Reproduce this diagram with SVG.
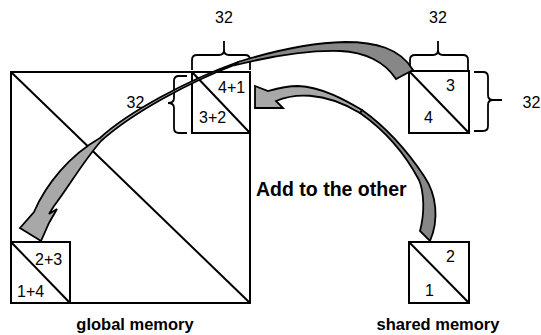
<svg xmlns="http://www.w3.org/2000/svg" width="541" height="335" viewBox="0 0 541 335">
  <style>
    .box { fill: #ffffff; stroke: #000000; stroke-width: 2; }
    .diag { stroke: #000000; stroke-width: 2; fill: none; }
    .brace { fill: none; stroke: #000000; stroke-width: 1.8; stroke-linejoin: round; }
    .back { fill: #878787; stroke: #000000; stroke-width: 1.8; stroke-linejoin: miter; }
    .front { fill: #a8a8a8; stroke: #000000; stroke-width: 1.8; stroke-linejoin: miter; }
    .num { font-family: "Liberation Sans", Arial, sans-serif; font-size: 16px; fill: #000000; }
    .cap { font-family: "Liberation Sans", Arial, sans-serif; font-size: 16.5px; font-weight: bold; fill: #000000; text-anchor: middle; }
    .note { font-family: "Liberation Sans", Arial, sans-serif; font-size: 19.5px; font-weight: bold; fill: #000000; }
  </style>

  <!-- global memory matrix -->
  <g id="global-memory">
    <rect class="box" x="11" y="72" width="239" height="231"/>
    <line class="diag" x1="11" y1="72" x2="250" y2="303"/>
  </g>

  <!-- tile in the upper-right corner of global memory -->
  <g id="global-tile-top">
    <rect class="box" x="192" y="72" width="58" height="61"/>
    <line class="diag" x1="192" y1="72" x2="250" y2="133"/>
    <text class="num" x="218" y="93">4+1</text>
    <text class="num" x="199" y="123">3+2</text>
  </g>

  <!-- tile in the lower-left corner of global memory -->
  <g id="global-tile-bottom">
    <rect class="box" x="11" y="242" width="59" height="61"/>
    <line class="diag" x1="11" y1="242" x2="70" y2="303"/>
    <text class="num" x="35" y="265">2+3</text>
    <text class="num" x="17" y="297">1+4</text>
  </g>

  <!-- shared memory tiles -->
  <g id="shared-tile-top">
    <rect class="box" x="409" y="71" width="60" height="62"/>
    <line class="diag" x1="409" y1="71" x2="469" y2="133"/>
    <text class="num" x="446" y="91">3</text>
    <text class="num" x="424" y="123">4</text>
  </g>

  <g id="shared-tile-bottom">
    <rect class="box" x="409" y="242" width="60" height="61"/>
    <line class="diag" x1="409" y1="242" x2="469" y2="303"/>
    <text class="num" x="446" y="262">2</text>
    <text class="num" x="425" y="296">1</text>
  </g>

  <!-- size braces -->
  <g id="brace-global-top">
    <path class="brace" d="M192,70 L192,60 Q192,55 197,55 L219,55 Q224,55 224,50 L224,41 M224,50 Q224,55 229,55 L245,55 Q250,55 250,60 L250,70"/>
    <text class="num" x="224" y="23" text-anchor="middle">32</text>
  </g>
  <g id="brace-global-left">
    <path class="brace" d="M187,76 L179,76 Q174,76 174,81 L174,98 Q174,103 168,103 M187,133 L179,133 Q174,133 174,128 L174,108 Q174,103 168,103"/>
    <text class="num" x="135.5" y="108" text-anchor="middle">32</text>
  </g>
  <g id="brace-shared-top">
    <path class="brace" d="M410,70 L410,60 Q410,55 415,55 L433,55 Q438,55 438,50 L438,41 M438,50 Q438,55 443,55 L463,55 Q468,55 468,60 L468,70"/>
    <text class="num" x="438" y="23" text-anchor="middle">32</text>
  </g>
  <g id="brace-shared-right">
    <path class="brace" d="M474,72 L483,72 Q488,72 488,77 L488,95 Q488,100 493,100 L502,100 M493,100 Q488,100 488,105 L488,126 Q488,131 483,131 L474,131"/>
    <text class="num" x="531.5" y="108" text-anchor="middle">32</text>
  </g>

  <!-- curved block arrows: dark back face of the ribbon, light front face with head -->
  <g id="connectors">
    <!-- shared 3/4 tile to lower-left global tile -->
    <path class="back" d="M413,70 C400,48 375,42 345,42 C305,43 270,52 238,62 L236,65 C268,57 305,50 340,51 C365,52 385,62 396,79 Z"/>
    <path class="front" d="M238,62 C188,80 128,112 100,138 C70,155 46,184 34,212 L20,228 L41,241 L49,223 L57,209 L49,214 L54,206 C68,188 82,163 101,141 C132,113 189,82 237,64 Z"/>
    <!-- shared 1/2 tile to upper-right global tile -->
    <path class="back" d="M430,241 C439,220 437,195 424,176 C410,155 390,130 362,110 L360,113 C388,132.5 407,157.5 419,180 C424,192 425,212 420,231 Z"/>
    <path class="front" d="M362,110 C345,100 322,87 298,86 C285,86 275,89 268,91 L255,86 L255,108 L283,108 L276,101 C292,94 322,90 360,113 Z"/>
  </g>

  <text class="note" x="256" y="196">Add to the other</text>
  <text class="cap" x="135" y="330">global memory</text>
  <text class="cap" x="438" y="330">shared memory</text>
</svg>
